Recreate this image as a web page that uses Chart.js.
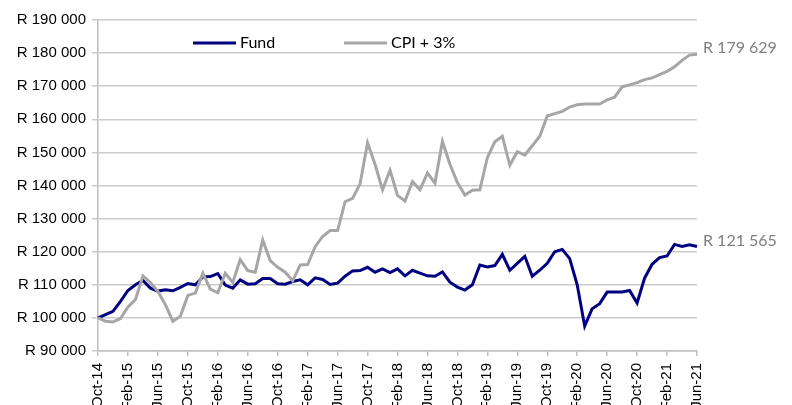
<!DOCTYPE html>
<html>
<head>
<meta charset="utf-8">
<script src="https://cdn.jsdelivr.net/npm/chart.js@4"></script>
<style>
  html, body { margin: 0; padding: 0; background: #fff; }
</style>
</head>
<body>
<canvas id="chart" width="792" height="405"></canvas>
<script>
// monthly, Oct-14 .. Jun-21
const months = [
  'Oct-14','Nov-14','Dec-14',
  'Jan-15','Feb-15','Mar-15','Apr-15','May-15','Jun-15','Jul-15','Aug-15','Sep-15','Oct-15','Nov-15','Dec-15',
  'Jan-16','Feb-16','Mar-16','Apr-16','May-16','Jun-16','Jul-16','Aug-16','Sep-16','Oct-16','Nov-16','Dec-16',
  'Jan-17','Feb-17','Mar-17','Apr-17','May-17','Jun-17','Jul-17','Aug-17','Sep-17','Oct-17','Nov-17','Dec-17',
  'Jan-18','Feb-18','Mar-18','Apr-18','May-18','Jun-18','Jul-18','Aug-18','Sep-18','Oct-18','Nov-18','Dec-18',
  'Jan-19','Feb-19','Mar-19','Apr-19','May-19','Jun-19','Jul-19','Aug-19','Sep-19','Oct-19','Nov-19','Dec-19',
  'Jan-20','Feb-20','Mar-20','Apr-20','May-20','Jun-20','Jul-20','Aug-20','Sep-20','Oct-20','Nov-20','Dec-20',
  'Jan-21','Feb-21','Mar-21','Apr-21','May-21','Jun-21'
];

const fund = [
  100000, 101000, 102000, 105000, 108300, 110000, 111300, 109000, 108100, 108500,
  108200, 109200, 110400, 110000, 112400, 112500, 113400, 109900, 109000, 111500,
  110200, 110300, 111900, 111900, 110300, 110200, 111000, 111500, 110000, 112100,
  111600, 110100, 110500, 112600, 114200, 114300, 115300, 113800, 114800, 113700,
  114800, 112700, 114400, 113500, 112700, 112600, 113900, 110800, 109300, 108400,
  110000, 116000, 115400, 115800, 119200, 114400, 116500, 118600, 112600, 114400,
  116500, 120000, 120700, 117900, 110000, 97500, 102800, 104300, 107800, 107800,
  107800, 108300, 104500, 112000, 116200, 118200, 118700, 122200, 121600, 122100,
  121565
];

const cpi = [
  100000, 99000, 98800, 99800, 103300, 105500, 112700, 110700, 108000, 104000,
  99000, 100500, 106800, 107500, 113500, 108700, 107600, 113500, 110700, 117600,
  114300, 113800, 123500, 117300, 115300, 113800, 111200, 116000, 116100, 121500,
  124600, 126400, 126400, 135100, 136100, 140500, 152900, 146400, 138700, 144600,
  137000, 135300, 141200, 138700, 143800, 140700, 153300, 146400, 140900, 137100,
  138600, 138700, 148400, 153200, 154900, 146100, 150200, 149200, 152000, 154900,
  161000, 161700, 162400, 163700, 164400, 164600, 164600, 164600, 165900, 166700,
  169800, 170400, 171100, 172000, 172500, 173500, 174500, 175900, 177800, 179400,
  179629
];

const seriesNames = ['Fund', 'CPI + 3%'];
const seriesColors = ['#000080', '#a6a6a6'];

function rand(v) {
  return 'R ' + String(v).replace(/\B(?=(\d{3})+(?!\d))/g, ' ');
}

// legend inside the plot + value labels at line ends
const extras = {
  id: 'extras',
  afterDatasetsDraw(chart) {
    const ctx = chart.ctx;
    ctx.save();
    ctx.font = '16px Lato';
    ctx.textBaseline = 'middle';
    ctx.lineWidth = 3;
    const legendX = [193, 344];
    seriesNames.forEach((name, i) => {
      ctx.strokeStyle = seriesColors[i];
      ctx.beginPath();
      ctx.moveTo(legendX[i], 43);
      ctx.lineTo(legendX[i] + 43, 43);
      ctx.stroke();
      ctx.fillStyle = '#000';
      ctx.fillText(name, legendX[i] + 47, 43);
    });

    const xs = chart.scales.x, ys = chart.scales.y;
    const last = months.length - 1;
    ctx.fillStyle = '#7f7f7f';
    [fund, cpi].forEach(arr => {
      const px = xs.getPixelForValue(last);
      const py = ys.getPixelForValue(arr[last]);
      ctx.fillText(rand(arr[last]), px + 6, py - 6);
    });
    ctx.restore();
  }
};

new Chart(document.getElementById('chart'), {
  type: 'line',
  data: {
    labels: months,
    datasets: [
      { label: seriesNames[1], data: cpi, borderColor: seriesColors[1], borderWidth: 3,
        pointRadius: 0, tension: 0, fill: false },
      { label: seriesNames[0], data: fund, borderColor: seriesColors[0], borderWidth: 3,
        pointRadius: 0, tension: 0, fill: false }
    ]
  },
  options: {
    responsive: false,
    animation: false,
    devicePixelRatio: 1,
    layout: { padding: { top: 20, right: 95, bottom: 0, left: 0 } },
    plugins: { legend: { display: false }, tooltip: { enabled: false } },
    scales: {
      x: {
        offset: false,
        afterFit(scale) { scale.height = 54; },
        border: { color: '#bfbfbf', width: 1.5 },
        grid: { drawOnChartArea: false, drawTicks: true, tickLength: 5, color: '#bfbfbf', lineWidth: 1.5 },
        ticks: {
          autoSkip: false,
          minRotation: 90,
          maxRotation: 90,
          padding: 7,
          color: '#000',
          font: { family: 'Liberation Sans', size: 15 },
          callback: (val, idx) => (idx % 4 === 0 ? months[idx] : null)
        }
      },
      y: {
        min: 90000,
        max: 190000,
        afterFit(scale) { scale.width = 98; },
        border: { color: '#bfbfbf', width: 1.5 },
        grid: { color: '#cccccc', lineWidth: 1.5, tickLength: 6 },
        ticks: {
          stepSize: 10000,
          padding: 6,
          color: '#000',
          font: { family: 'Liberation Sans', size: 15 },
          callback: v => rand(v)
        }
      }
    }
  },
  plugins: [extras]
});
</script>
</body>
</html>
